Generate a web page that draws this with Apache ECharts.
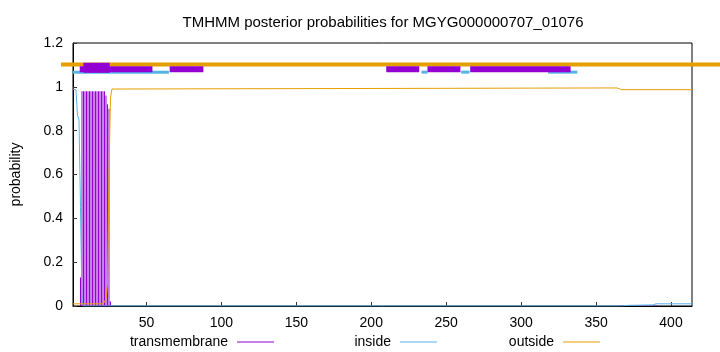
<!DOCTYPE html>
<html>
<head>
<meta charset="utf-8">
<script src="https://cdn.jsdelivr.net/npm/echarts@6/dist/echarts.min.js"></script>
<style>html,body{margin:0;padding:0;background:#fff}#c{width:720px;height:352px}</style>
</head>
<body>
<div id="c"></div>
<script>
const titleText = 'TMHMM posterior probabilities for MGYG000000707_01076';
const xTickValues = [50, 100, 150, 200, 250, 300, 350, 400];
const seqStart = 1;
const seqEnd = 414;

// transmembrane posterior (position, probability), impulses
const tmProb = [
  [6, 0.13], [7, 0.98], [8, 0.98], [9, 0.98], [10, 0.98], [11, 0.98], [12, 0.98],
  [13, 0.98], [14, 0.98], [15, 0.98], [16, 0.98], [17, 0.98], [18, 0.98], [19, 0.98],
  [20, 0.98], [21, 0.98], [22, 0.98], [23, 0.96], [24, 0.92], [25, 0.90], [26, 0.02],
  [366, 0.005], [368, 0.005], [370, 0.005], [372, 0.005], [374, 0.005], [376, 0.005],
  [378, 0.005], [380, 0.005], [382, 0.005], [384, 0.005], [386, 0.005], [388, 0.005], [390, 0.005]
];
// inside posterior
const insideProb = [
  [1, 0.99], [3, 0.985], [4, 0.87], [5, 0.85], [6, 0.45], [7, 0.02], [8, 0],
  [366, 0], [372, 0.003], [388, 0.005], [390, 0.01], [414, 0.01]
];
// outside posterior
const outsideProb = [
  [1, 0.01], [21, 0.01], [22, 0.015], [23, 0.03], [24, 0.1], [25, 0.6], [26, 0.95],
  [27, 0.99], [28, 0.995], [364, 0.995], [367, 0.987], [414, 0.987]
];
// topology bars at the top (start, end)
const outsideSpans = [[-7, 433]];
const insideSpans = [[1, 65], [233.5, 237.5], [260, 265.5], [318, 337.5]];
const tmSpans = [[5.5, 54], [65.5, 88], [210, 232], [237.5, 259.5], [266, 333]];
const tmTallSpans = [[8, 25.5]];

const C_TM = '#9400D3', C_IN = '#56B4E9', C_OUT = '#E69F00';
const FONT = 'Liberation Sans, Arial, sans-serif';

function boxSeries(name, data, yVal, hPx, color, z) {
  return {
    type: 'custom', name: name, data: data, z: z, clip: false, silent: true,
    encode: { x: [0, 1] },
    renderItem: function (params, api) {
      const s = api.coord([api.value(0), yVal]);
      const e = api.coord([api.value(1), yVal]);
      return { type: 'rect', shape: { x: s[0], y: s[1] - hPx / 2, width: e[0] - s[0], height: hPx }, style: { fill: color } };
    }
  };
}

const chart = echarts.init(document.getElementById('c'), null, { renderer: 'canvas' });
const legendBase = { orient: 'horizontal', align: 'right', icon: 'rect', itemWidth: 37, itemHeight: 1,
  top: 330, textStyle: { fontFamily: FONT, fontSize: 14, color: '#000', padding: [0, 4, 0, 0] } };
chart.setOption({
  animation: false,
  title: { text: titleText, left: 378, textAlign: 'center', top: 10, textStyle: { fontFamily: FONT, fontSize: 15, fontWeight: 'normal', color: '#000' } },
  grid: { left: 73, right: 28, top: 43, bottom: 46, show: true, borderColor: '#000', borderWidth: 1, backgroundColor: 'transparent' },
  legend: [
    Object.assign({}, legendBase, { data: ['transmembrane'], right: 441 }),
    Object.assign({}, legendBase, { data: ['inside'], right: 278 }),
    Object.assign({}, legendBase, { data: ['outside'], right: 115 })
  ],
  xAxis: {
    type: 'value', min: seqStart, max: seqEnd,
    axisLine: { show: true, lineStyle: { color: '#000', width: 1 } },
    axisTick: { show: true, inside: true, length: 4, customValues: xTickValues, lineStyle: { color: '#333' } },
    axisLabel: { customValues: xTickValues, fontFamily: FONT, fontSize: 14, color: '#000', margin: 10 },
    splitLine: { show: false }
  },
  yAxis: {
    type: 'value', min: 0, max: 1.2, interval: 0.2,
    name: 'probability', nameLocation: 'middle', nameGap: 50, nameRotate: 90,
    nameTextStyle: { fontFamily: FONT, fontSize: 14, color: '#000' },
    axisLine: { show: true, lineStyle: { color: '#000', width: 1 } },
    axisTick: { show: true, inside: true, length: 4, lineStyle: { color: '#333' } },
    axisLabel: { fontFamily: FONT, fontSize: 14, color: '#000', margin: 10 },
    splitLine: { show: false }
  },
  series: [
    { type: 'bar', name: 'transmembrane', data: tmProb, barWidth: 1, itemStyle: { color: C_TM }, z: 3 },
    { type: 'line', name: 'inside', data: insideProb, showSymbol: false, lineStyle: { color: C_IN, width: 1 }, itemStyle: { color: C_IN }, z: 4 },
    { type: 'line', name: 'outside', data: outsideProb, showSymbol: false, lineStyle: { color: C_OUT, width: 1 }, itemStyle: { color: C_OUT }, z: 5 },
    boxSeries('outsideTop', outsideSpans, 1.102, 4, C_OUT, 6),
    boxSeries('insideTop', insideSpans, 1.067, 3, C_IN, 7),
    boxSeries('tmTop', tmSpans, 1.080, 6, C_TM, 8),
    boxSeries('tmTallTop', tmTallSpans, 1.087, 10, C_TM, 9)
  ]
});
</script>
</body>
</html>
